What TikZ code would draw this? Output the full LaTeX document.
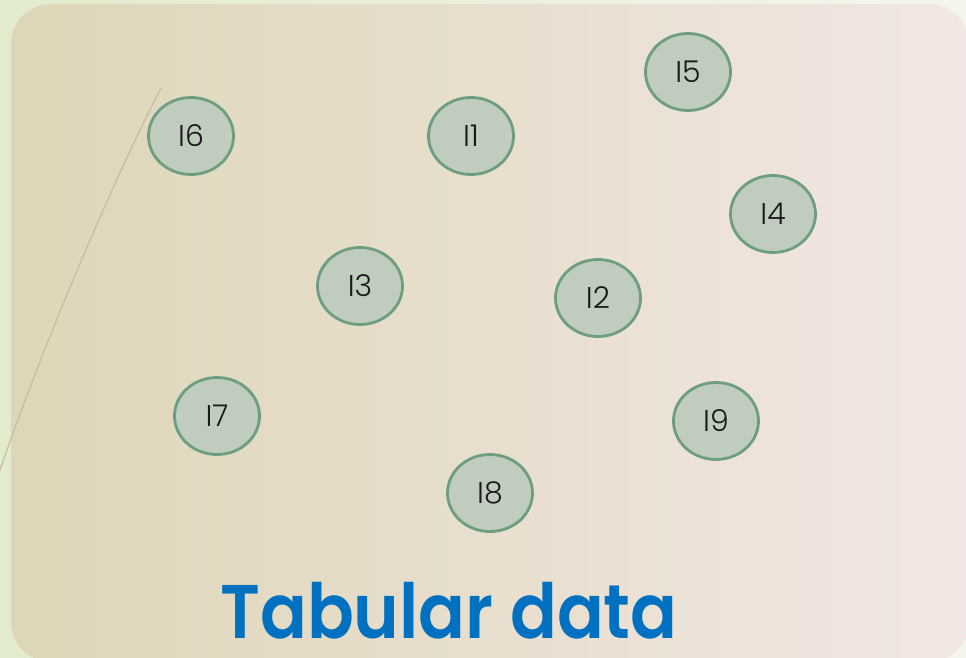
\documentclass[tikz,border=0pt]{standalone}
\usepackage{fontspec}
\setmainfont{Poppins}[BoldFont={Poppins SemiBold}]
\newfontfamily\labelfont{Poppins Light}
\usetikzlibrary{shapes.geometric}
\definecolor{outerL}{HTML}{E3EBCF}
\definecolor{outerR}{HTML}{F4F6EC}
\definecolor{panelL}{HTML}{DDD6B8}
\definecolor{panelR}{HTML}{F2E7E4}
\definecolor{nodefill}{HTML}{C0CCBE}
\definecolor{nodeedge}{HTML}{6E9E80}
\definecolor{titleblue}{HTML}{0070C0}
\definecolor{curvecol}{HTML}{C4BA9C}
\begin{document}
\begin{tikzpicture}[x=1pt,y=-1pt,
  inode/.style={ellipse, draw=nodeedge, fill=nodefill, line width=2.8pt,
    minimum width=85pt, minimum height=77pt, inner sep=0pt,
    font=\labelfont\fontsize{30}{32}\selectfont, text=black!90}]
\useasboundingbox (0,0) rectangle (966,658);
\shade[left color=outerL, right color=outerR] (0,0) rectangle (966,658);
\shade[left color=panelL, right color=panelR, rounded corners=40pt]
  (11,4) rectangle (969,662);
\draw[curvecol, line width=1.1pt] (161,88) .. controls (109,188) and (33,370) .. (-4,482);
\node[inode] (i6) at (191,136) {I6};
\node[inode] (i1) at (471,136) {I1};
\node[inode] (i5) at (688,72) {I5};
\node[inode] (i4) at (773,214) {I4};
\node[inode] (i3) at (360,286) {I3};
\node[inode] (i2) at (598,298) {I2};
\node[inode] (i7) at (217,416) {I7};
\node[inode] (i9) at (716,421) {I9};
\node[inode] (i8) at (490,493) {I8};
\node[anchor=base, text=titleblue, inner sep=0pt]
  (title) at (449,638) {\scalebox{0.91}[1]{\fontsize{76}{80}\selectfont\bfseries Tabular data}};
\end{tikzpicture}
\end{document}
